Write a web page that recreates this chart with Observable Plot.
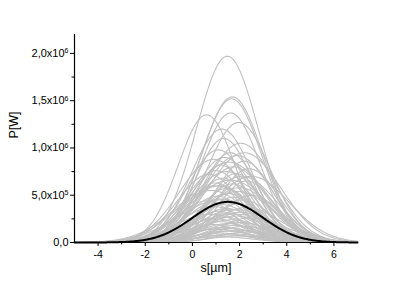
<!DOCTYPE html>
<html>
<head>
<meta charset="utf-8">
<script src="https://cdn.jsdelivr.net/npm/d3@7"></script>
<script src="https://cdn.jsdelivr.net/npm/@observablehq/plot@0.6"></script>
<style>
  html, body { margin: 0; padding: 0; background: #fff; }
  #chart { width: 415px; height: 292px; }
  svg { font-family: "Liberation Sans", Arial, sans-serif; }
</style>
</head>
<body>
<div id="chart"></div>
<script>
// Gray pulses: peak power (W), centre (µm), width sigma (µm)
const grayPeaks = [1.97e6,1.54e6,1.52e6,1.35e6,1.37e6,1.27e6,1.20e6,1.10e6,1.05e6,0.98e6,
  0.95e6,0.92e6,0.90e6,0.88e6,0.86e6,0.85e6,0.82e6,0.80e6,0.78e6,0.76e6,
  0.75e6,0.73e6,0.72e6,0.70e6,0.68e6,0.66e6,0.65e6,0.63e6,0.62e6,0.60e6,
  0.58e6,0.57e6,0.55e6,0.54e6,0.52e6,0.50e6,0.49e6,0.48e6,0.46e6,0.45e6,
  0.44e6,0.42e6,0.41e6,0.40e6,0.38e6,0.37e6,0.36e6,0.35e6,0.33e6,0.32e6,
  0.31e6,0.30e6,0.28e6,0.27e6,0.26e6,0.25e6,0.24e6,0.22e6,0.21e6,0.20e6,
  0.19e6,0.18e6,0.17e6,0.16e6,0.15e6,0.14e6,0.13e6,0.12e6,0.11e6,0.10e6,
  0.09e6,0.08e6,0.07e6,0.06e6,0.45e6,0.30e6,0.60e6,0.95e6,0.70e6];
const grayCentres = [1.48,1.69,1.66,0.60,1.62,1.96,1.25,1.33,2.04,1.10,
  1.60,1.90,1.35,0.90,2.20,1.55,1.20,1.75,2.40,1.00,
  1.45,1.85,0.70,2.10,1.30,1.60,2.30,0.95,1.70,1.15,
  2.00,1.40,0.80,1.90,1.50,2.50,1.05,1.75,1.25,2.15,
  0.60,1.60,1.95,1.30,0.90,2.30,1.45,1.80,1.10,2.05,
  1.55,0.75,1.85,1.35,2.40,1.00,1.65,1.20,2.00,1.50,
  0.85,1.75,2.20,1.30,1.60,1.05,1.90,1.40,2.30,1.15,
  1.70,1.45,2.00,1.25,1.20,1.80,1.00,2.20,2.50];
const graySigmas = [1.32,1.30,1.28,1.20,1.25,1.35,1.30,1.20,1.45,1.30,
  1.20,1.45,1.30,1.45,1.25,1.60,1.15,1.40,1.30,1.30,
  1.55,1.15,1.35,1.50,1.25,1.70,1.20,1.15,1.25,1.50,
  1.40,1.10,1.55,1.60,1.25,1.30,1.25,1.15,1.45,1.25,
  1.25,1.50,1.10,1.20,1.40,1.45,1.30,1.55,1.15,1.25,
  1.20,1.50,1.40,1.25,1.20,1.30,1.45,1.15,1.50,1.25,
  1.25,1.20,1.30,1.40,1.15,1.45,1.25,1.30,1.20,1.25,
  1.40,1.20,1.25,1.30,1.80,1.90,1.70,1.55,1.60];
// Black pulse
const blackPeak = 0.43e6, blackCentre = 1.5, blackSigma = 1.5;

const xTicks = [-4, -2, 0, 2, 4, 6];
const xMinorTicks = [-3, -1, 1, 3, 5];
const yTicks = [0, 5e5, 1e6, 1.5e6, 2e6];
const yTickMantissa = ["0,0", "5,0x10", "1,0x10", "1,5x10", "2,0x10"];
const yTickExponent = ["", "5", "6", "6", "6"];
const yMinorTicks = [2.5e5, 7.5e5, 1.25e6, 1.75e6];

const xs = d3.range(-5, 7.0001, 0.04);
const pulse = (a, m, s) => xs.map(x => ({x, y: a * Math.exp(-((x - m) ** 2) / (2 * s * s))}));
const grayRows = grayPeaks.flatMap((a, i) => pulse(a, grayCentres[i], graySigmas[i]).map(d => ({...d, id: i})));
const blackRows = pulse(blackPeak, blackCentre, blackSigma);

const chart = Plot.plot({
  width: 415, height: 292,
  marginLeft: 74, marginRight: 58, marginTop: 34, marginBottom: 50,
  style: {fontFamily: "Liberation Sans, Arial, sans-serif", fontSize: "10px", background: "#fff", color: "#000"},
  x: {domain: [-5, 7]},
  y: {domain: [0, 2.2e6]},
  marks: [
    Plot.line(grayRows, {x: "x", y: "y", z: "id", stroke: "#c0c0c0", strokeWidth: 1.1}),
    Plot.line(blackRows, {x: "x", y: "y", stroke: "#000", strokeWidth: 2}),
    Plot.ruleX([-5], {stroke: "#000", strokeWidth: 1.2}),
    Plot.ruleY([0], {stroke: "#000", strokeWidth: 1.2}),
    Plot.axisX({ticks: xTicks, tickSize: 4, tickPadding: 4, tickFormat: d => (d < 0 ? "-" : "") + Math.abs(d), label: null, fontSize: 10.5}),
    Plot.axisX({ticks: xMinorTicks, tickSize: 2.5, tickFormat: () => "", label: null}),
    Plot.axisY({ticks: yTicks, tickSize: 4, tickPadding: 2, tickFormat: d => yTickMantissa[yTicks.indexOf(d)], label: null, fontSize: 11}),
    Plot.axisY({ticks: yMinorTicks, tickSize: 2.5, tickFormat: () => "", label: null}),
    Plot.text(["s[µm]"], {frameAnchor: "bottom", dy: 29, fontSize: 12.5, text: d => d}),
    Plot.text(["P[W]"], {frameAnchor: "left", dx: -61, rotate: -90, fontSize: 12.5, text: d => d})
  ]
});
document.getElementById("chart").appendChild(chart);

// add superscript exponents to the y tick labels
d3.select(chart).selectAll("[aria-label='y-axis tick label'] text").each(function() {
  const t = d3.select(this);
  const i = yTickMantissa.indexOf(t.text());
  if (i > 0) {
    t.append("tspan").attr("dy", "-0.5em").attr("font-size", "7px").text(yTickExponent[i]);
  }
});
</script>
</body>
</html>
